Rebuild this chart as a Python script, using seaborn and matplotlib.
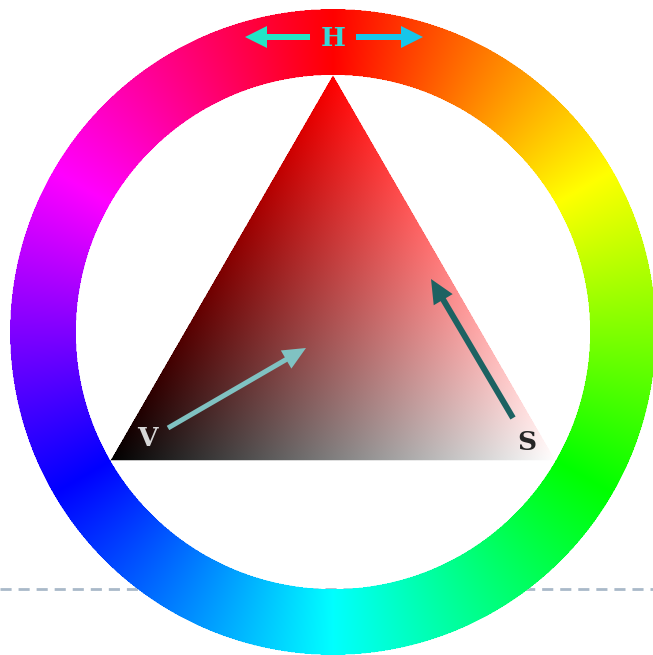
import numpy as np
import pandas as pd
import seaborn as sns
import matplotlib.pyplot as plt
from matplotlib.colors import hsv_to_rgb

sns.set_theme(style="white")
plt.rcParams['font.family'] = ['DejaVu Serif', 'DejaVu Sans']

# data: the three HSV components and the triangle corner colours
labels = ['H', 'V', 'S']
corner_names = ['pure hue', 'black', 'white']
corner_rgb = [[1.0, 0.0, 0.0], [0.0, 0.0, 0.0], [1.0, 1.0, 1.0]]
ring_sat = 1.0
ring_val = 1.0

W, H = 653, 655
cx, cy = 333.0, 332.0
r_out, r_in = 323.0, 257.0

# pixel grid (2x oversampled)
ss = 2
xs = (np.arange(W * ss) + 0.5) / ss
ys = (np.arange(H * ss) + 0.5) / ss
X, Y = np.meshgrid(xs, ys)
dx, dy = X - cx, cy - Y
rr = np.hypot(dx, dy)
ang = np.degrees(np.arctan2(dy, dx))
hue = ((90.0 - ang) % 360.0) / 360.0

img = np.ones((H * ss, W * ss, 4))
img[..., 3] = 0.0
ring = (rr <= r_out) & (rr >= r_in)
hsv = np.stack([hue, np.full_like(hue, ring_sat), np.full_like(hue, ring_val)], axis=-1)
img[ring, :3] = hsv_to_rgb(hsv[ring])
img[ring, 3] = 1.0

# triangle inscribed in the inner circle, barycentric colour mix
pts = np.array([[cx + r_in * np.cos(np.radians(a)), cy - r_in * np.sin(np.radians(a))]
                for a in (90, 210, 330)])
(x1, y1), (x2, y2), (x3, y3) = pts
den = (y2 - y3) * (x1 - x3) + (x3 - x2) * (y1 - y3)
l1 = ((y2 - y3) * (X - x3) + (x3 - x2) * (Y - y3)) / den
l2 = ((y3 - y1) * (X - x3) + (x1 - x3) * (Y - y3)) / den
l3 = 1 - l1 - l2
tri = (l1 >= 0) & (l2 >= 0) & (l3 >= 0)
cols = np.array(corner_rgb)
mix = l1[..., None] * cols[0] + l2[..., None] * cols[1] + l3[..., None] * cols[2]
img[tri, :3] = np.clip(mix[tri], 0, 1)
img[tri, 3] = 1.0

# downsample for antialiasing
img = img.reshape(H, ss, W, ss, 4).mean(axis=(1, 3))

fig = plt.figure(figsize=(W / 100, H / 100), dpi=100)
ax = fig.add_axes([0, 0, 1, 1])

# dashed guide line behind the wheel
guide = pd.DataFrame({'x': [0, W], 'y': [589, 589]})
sns.lineplot(data=guide, x='x', y='y', ax=ax, color='#a9b9c9', lw=2,
             linestyle=(0, (4, 2.5)), zorder=0)

ax.imshow(img, extent=(0, W, H, 0), interpolation='antialiased', zorder=1)

# H arrows
ax.arrow(310, 37, -65, 0, width=6, head_width=22, head_length=22,
         length_includes_head=True, color='#22e6c6', lw=0, zorder=3)
ax.arrow(356, 37, 67, 0, width=6, head_width=22, head_length=22,
         length_includes_head=True, color='#18c6ea', lw=0, zorder=3)
ax.text(333, 38, labels[0], color='#38d6d6', fontsize=19, fontweight='bold',
        ha='center', va='center', zorder=4)

# V arrow
ax.arrow(168, 428, 138, -80, width=5, head_width=21, head_length=23,
         length_includes_head=True, color='#80c2c2', lw=0, zorder=3)
ax.text(147, 439, labels[1], color='#d6d6d6', fontsize=19, fontweight='bold',
        ha='center', va='center', zorder=4)

# S arrow
ax.arrow(513, 418, -82, -139, width=6, head_width=22, head_length=24,
         length_includes_head=True, color='#1c6262', lw=0, zorder=3)
ax.text(527, 442, labels[2], color='#262626', fontsize=19, fontweight='bold',
        ha='center', va='center', zorder=4)

ax.set_xlim(0, W)
ax.set_ylim(H, 0)
ax.set_aspect('auto')
ax.axis('off')
fig.savefig('out.png', dpi=100, facecolor='white')
